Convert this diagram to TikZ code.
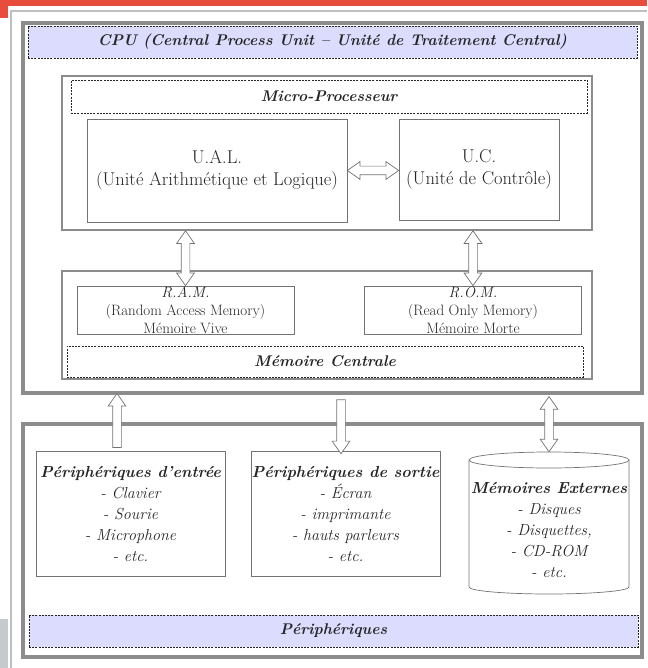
\documentclass[tikz,border=0pt]{standalone}
\usepackage{tikz}
\usetikzlibrary{calc,shapes.arrows}

\definecolor{bandblue}{HTML}{DCDCFF}
\definecolor{framegray}{HTML}{8C8C8C}
\definecolor{topred}{HTML}{E74C3C}
\definecolor{sidegray}{HTML}{C5CACD}

\tikzset{
	outerbox/.style={draw=framegray, line width=3.5pt},
	innerbox/.style={draw=black!45, line width=1.6pt},
	band/.style={draw=black!85, dash pattern=on 2pt off 1.2pt, line width=0.8pt, inner sep=0pt,
		font=\fontsize{15.5}{18}\selectfont\bfseries\itshape, text=black!85},
	unitbox/.style={draw=black!55, line width=0.7pt, inner sep=0pt, align=center, text=black!85,
		font=\fontsize{18.5}{22}\selectfont},
	membox/.style={draw=black!55, line width=0.7pt, inner sep=0pt, align=center, text=black!85,
		font=\fontsize{15}{18}\selectfont, minimum width=217pt, minimum height=48pt},
	listbox/.style={draw=black!55, line width=0.7pt, inner sep=0pt, align=center, text=black!85,
		font=\fontsize{16}{21}\selectfont\itshape, minimum width=189pt, minimum height=125pt},
	hollowarrow/.style={single arrow, draw=black!55, fill=white, line width=0.7pt, inner sep=4pt,
		single arrow head extend=4.5pt, single arrow tip angle=70},
	hollowdouble/.style={double arrow, draw=black!55, fill=white, line width=0.7pt, inner sep=4pt,
		double arrow head extend=4.5pt, double arrow tip angle=70}
}

% hollow arrow from #2 to #3
\newcommand\bigarrow[3]{%
	\path let \p1=(#2), \p2=(#3), \n1={veclen(\x2-\x1,\y2-\y1)},
		\n2={mod(atan2(\y2-\y1,\x2-\x1)+360,360)} in
	node[#1, minimum height=\n1, shape border rotate=\n2] at ($(#2)!0.5!(#3)$) {};}

\begin{document}
\begin{tikzpicture}[x=1pt,y=-1pt]
	\useasboundingbox (0,0) rectangle (647,668);
	% page edges
	\fill[topred] (0,0) rectangle (647,6);
	\fill[topred] (0,0) rectangle (8,18);
	\draw[black!25, line width=1.5pt] (11,668) -- (11,11) -- (647,11);
	\fill[sidegray] (0,619) rectangle (8,668);

	% CPU
	\node[outerbox, minimum width=619pt, minimum height=370pt] (cpu) at (332.5,208) {};
	\node[band, fill=bandblue, minimum width=609pt, minimum height=32pt] (cpuband) at (332.5,42)
		{CPU (Central Process Unit – Unité de Traitement Central)};
	\node[innerbox, minimum width=530pt, minimum height=154pt] (micro) at (327,153) {};
	\node[band, fill=white, minimum width=516pt, minimum height=33pt] (microband) at (329,96.5) {Micro-Processeur};
	\node[unitbox, minimum width=260pt, minimum height=103pt] (ual) at (217,170.5)
		{U.A.L.\\(Unité Arithmétique et Logique)};
	\node[unitbox, minimum width=160pt, minimum height=101pt] (uc) at (479,169.5)
		{U.C.\\(Unité de Contrôle)};
	\node[innerbox, minimum width=530pt, minimum height=108pt] (mem) at (327,325) {};
	\node[membox] (ram) at (185.5,310) {\textit{R.A.M.}\\(Random Access Memory)\\Mémoire Vive};
	\node[membox] (rom) at (473,310) {\textit{R.O.M.}\\(Read Only Memory)\\Mémoire Morte};
	\node[band, fill=white, minimum width=516pt, minimum height=31pt] (memband) at (325,361.5) {Mémoire Centrale};

	% Peripheriques
	\node[outerbox, minimum width=619pt, minimum height=233pt] (periph) at (332.5,540.5) {};
	\node[listbox] (input) at (130.5,513.5)
		{\textbf{Périphériques d'entrée}\\- Clavier\\- Sourie\\- Microphone\\- etc.};
	\node[listbox] (output) at (345.5,513.5)
		{\textbf{Périphériques de sortie}\\- Écran\\- imprimante\\- hauts parleurs\\- etc.};
	\node[minimum width=160pt, minimum height=142pt, inner sep=0pt] (extmem) at (549,523) {};
	\draw[draw=black!55, line width=0.7pt, fill=white] (469,460) -- (469,587)
		arc[start angle=180, end angle=0, x radius=80, y radius=7] -- (629,460);
	\draw[draw=black!55, line width=0.7pt, fill=white] (549,460) ellipse [x radius=80, y radius=8];
	\node[align=center, text=black!85, font=\fontsize{16}{21}\selectfont\itshape] (exttext) at (549,530)
		{\textbf{Mémoires Externes}\\- Disques\\- Disquettes,\\- CD-ROM\\- etc.};
	\node[band, fill=bandblue, minimum width=609pt, minimum height=32pt] (periphband) at (333.5,631) {Périphériques};

	% arrows
	\coordinate (cpuS) at ([yshift=-1.8pt]cpu.south);
	\coordinate (inA) at ([xshift=-13.5pt]input.north);
	\coordinate (outA) at ([xshift=-4.5pt]output.north);
	\bigarrow{hollowdouble}{ual.east}{ual.east -| uc.west}
	\bigarrow{hollowdouble}{micro.south -| ram.north}{ram.north}
	\bigarrow{hollowdouble}{micro.south -| rom.north}{rom.north}
	\bigarrow{hollowarrow}{inA}{cpuS -| inA}
	\bigarrow{hollowarrow}{cpuS -| outA}{outA}
	\bigarrow{hollowdouble}{cpuS -| extmem.north}{extmem.north}
\end{tikzpicture}
\end{document}
